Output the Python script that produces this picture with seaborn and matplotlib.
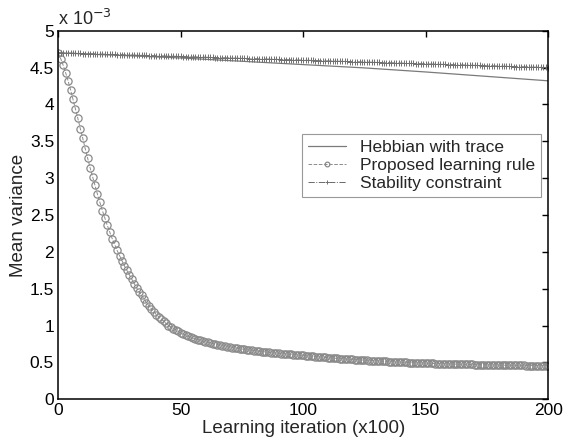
import seaborn as sns
import numpy as np
import pandas as pd
import matplotlib.pyplot as plt

# values in units of 1e-3
iterations = list(range(201))

hebbian_x = [0, 25, 50, 75, 100, 125, 150, 175, 200]
hebbian_y = [4.70, 4.665, 4.63, 4.585, 4.54, 4.495, 4.44, 4.38, 4.32]

proposed_y = [
    4.70, 4.62, 4.53, 4.43, 4.32, 4.20, 4.07, 3.94, 3.81, 3.67,
    3.54, 3.40, 3.27, 3.14, 3.02, 2.90, 2.78, 2.67, 2.56, 2.46,
    2.36, 2.27, 2.18, 2.10, 2.02, 1.95, 1.88, 1.81, 1.75, 1.69,
    1.63, 1.57, 1.51, 1.46, 1.41, 1.36, 1.31, 1.27, 1.23, 1.19,
    1.15, 1.12, 1.09, 1.06, 1.03, 1.00, 0.98, 0.96, 0.94, 0.92,
    0.90, 0.885, 0.87, 0.855, 0.84, 0.83, 0.82, 0.81, 0.80, 0.79,
    0.78, 0.772, 0.764, 0.756, 0.748, 0.741, 0.734, 0.727, 0.720, 0.714,
    0.708, 0.702, 0.697, 0.692, 0.687, 0.682, 0.677, 0.672, 0.668, 0.664,
    0.660, 0.656, 0.652, 0.648, 0.644, 0.640, 0.636, 0.633, 0.630, 0.627,
    0.624, 0.621, 0.618, 0.615, 0.612, 0.609, 0.606, 0.603, 0.600, 0.597,
    0.594, 0.591, 0.588, 0.585, 0.582, 0.579, 0.576, 0.573, 0.570, 0.568,
    0.565, 0.562, 0.560, 0.557, 0.555, 0.552, 0.550, 0.547, 0.545, 0.543,
    0.540, 0.538, 0.536, 0.534, 0.532, 0.530, 0.528, 0.526, 0.524, 0.522,
    0.520, 0.518, 0.516, 0.515, 0.513, 0.511, 0.509, 0.508, 0.506, 0.505,
    0.503, 0.502, 0.500, 0.499, 0.497, 0.496, 0.495, 0.493, 0.492, 0.491,
    0.490, 0.489, 0.488, 0.486, 0.485, 0.484, 0.483, 0.482, 0.481, 0.480,
    0.479, 0.478, 0.477, 0.477, 0.476, 0.475, 0.474, 0.473, 0.472, 0.472,
    0.471, 0.470, 0.469, 0.469, 0.468, 0.467, 0.467, 0.466, 0.465, 0.465,
    0.464, 0.463, 0.463, 0.462, 0.462, 0.461, 0.461, 0.460, 0.460, 0.459,
    0.459, 0.458, 0.458, 0.457, 0.457, 0.456, 0.456, 0.456, 0.455, 0.455,
    0.455,
]

stability_y = [
    4.700, 4.699, 4.698, 4.697, 4.696, 4.695, 4.694, 4.693, 4.692, 4.691,
    4.690, 4.689, 4.688, 4.687, 4.686, 4.685, 4.684, 4.683, 4.682, 4.681,
    4.680, 4.679, 4.678, 4.677, 4.676, 4.675, 4.674, 4.673, 4.672, 4.671,
    4.670, 4.669, 4.668, 4.667, 4.666, 4.665, 4.664, 4.663, 4.662, 4.661,
    4.660, 4.659, 4.658, 4.657, 4.656, 4.655, 4.654, 4.653, 4.652, 4.651,
    4.650, 4.649, 4.648, 4.647, 4.646, 4.645, 4.644, 4.643, 4.642, 4.641,
    4.640, 4.639, 4.638, 4.637, 4.636, 4.635, 4.634, 4.633, 4.632, 4.631,
    4.630, 4.629, 4.628, 4.627, 4.626, 4.625, 4.624, 4.623, 4.622, 4.621,
    4.620, 4.619, 4.618, 4.617, 4.616, 4.615, 4.614, 4.613, 4.612, 4.611,
    4.610, 4.609, 4.608, 4.607, 4.606, 4.605, 4.604, 4.603, 4.602, 4.601,
    4.600, 4.599, 4.598, 4.597, 4.596, 4.595, 4.594, 4.593, 4.592, 4.591,
    4.590, 4.589, 4.588, 4.587, 4.586, 4.585, 4.584, 4.583, 4.582, 4.581,
    4.580, 4.579, 4.578, 4.577, 4.576, 4.575, 4.574, 4.573, 4.572, 4.571,
    4.570, 4.569, 4.568, 4.567, 4.566, 4.565, 4.564, 4.563, 4.562, 4.561,
    4.560, 4.559, 4.558, 4.557, 4.556, 4.555, 4.554, 4.553, 4.552, 4.551,
    4.550, 4.549, 4.548, 4.547, 4.546, 4.545, 4.544, 4.543, 4.542, 4.541,
    4.540, 4.539, 4.538, 4.537, 4.536, 4.535, 4.534, 4.533, 4.532, 4.531,
    4.530, 4.529, 4.528, 4.527, 4.526, 4.525, 4.524, 4.523, 4.522, 4.521,
    4.520, 4.519, 4.518, 4.517, 4.516, 4.515, 4.514, 4.513, 4.512, 4.511,
    4.510, 4.509, 4.508, 4.507, 4.506, 4.505, 4.504, 4.503, 4.502, 4.501,
    4.500,
]

labels = ['Hebbian with trace', 'Proposed learning rule', 'Stability constraint']

sns.set_style('white')
plt.rcParams['font.family'] = ['Liberation Sans', 'DejaVu Sans']

fig = plt.figure(figsize=(5.68, 4.44), dpi=100)
ax = fig.add_axes([0.1026, 0.1007, 0.8624, 0.8302])

sns.lineplot(x=hebbian_x, y=hebbian_y, ax=ax, color='#7a7a7a', linewidth=0.9,
             label=labels[0])
sns.lineplot(x=iterations, y=proposed_y, ax=ax, color='#8c8c8c', linewidth=0.7,
             linestyle='--', marker='o', markersize=5.2, markerfacecolor='none',
             markeredgecolor='#8a8a8a', markeredgewidth=0.9, label=labels[1])
sns.lineplot(x=iterations, y=stability_y, ax=ax, color='#6a6a6a', linewidth=0.7,
             linestyle='-.', marker='+', markersize=5, markeredgewidth=0.7,
             markeredgecolor='#707070', label=labels[2])

ax.set_xlim(0, 200)
ax.set_ylim(0, 5)
ax.set_xticks([0, 50, 100, 150, 200])
ax.set_yticks(np.arange(0, 5.01, 0.5))
ax.set_yticklabels(['0', '0.5', '1', '1.5', '2', '2.5', '3', '3.5', '4', '4.5', '5'])
ax.tick_params(direction='in', length=4, width=1, labelsize=12.5, colors='black',
               top=True, right=True, pad=3)
for s in ax.spines.values():
    s.set_visible(True)
    s.set_color('black')
    s.set_linewidth(1.1)

ax.set_xlabel('Learning iteration (x100)', fontsize=13.5, labelpad=1)
ax.set_ylabel('Mean variance', fontsize=13.5, labelpad=2)
ax.text(0.0, 1.005, 'x 10$^{-3}$', transform=ax.transAxes, fontsize=13,
        ha='left', va='bottom')

leg = ax.legend(loc='upper right', bbox_to_anchor=(0.986, 0.72), borderaxespad=0,
                fontsize=12.5, handlelength=2.2, frameon=True, fancybox=False,
                edgecolor='#808080', labelspacing=0.15, borderpad=0.35,
                handletextpad=0.8, markerscale=0.65)
leg.get_frame().set_linewidth(0.8)

fig.savefig('out.png', dpi=100)
